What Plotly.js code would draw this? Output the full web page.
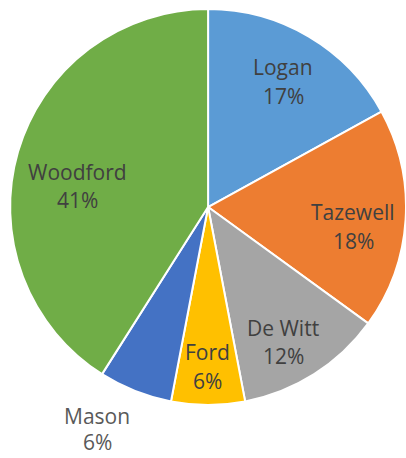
<!DOCTYPE html>
<html>
<head>
<meta charset="utf-8">
<script src="https://cdn.plot.ly/plotly-3.0.1.min.js"></script>
<style>html,body{margin:0;padding:0;background:#fff;}#chart{width:406px;height:458px;}</style>
</head>
<body>
<div id="chart"></div>
<script>
const counties = ["Logan", "Tazewell", "De Witt", "Ford", "Mason", "Woodford"];
const shares = [17, 18, 12, 6, 6, 41];
const sliceColors = ["#5B9BD5", "#ED7D31", "#A5A5A5", "#FFC000", "#4472C4", "#70AD47"];

// label placement (layout, pixels): centre x, y of name line, y of percent line
const labelX = [283, 353, 283, 207, 97, 77];
const labelY1 = [67, 212, 328, 352, 416, 172];
const labelY2 = [97, 242, 357, 382, 443, 202];
const labelColors = ["#404040", "#404040", "#404040", "#404040", "#595959", "#404040"];

const W = 406, H = 458;
const font = {family: "Open Sans, Liberation Sans, sans-serif", size: 21};

const trace = {
  type: "pie",
  labels: counties,
  values: shares,
  sort: false,
  direction: "clockwise",
  rotation: 0,
  marker: {colors: sliceColors, line: {color: "#ffffff", width: 2}},
  textinfo: "none",
  showlegend: false,
  hoverinfo: "label+percent",
  domain: {x: [0.025, 1], y: [0.1135, 0.9825]}
};

const annotations = [];
counties.forEach((name, i) => {
  annotations.push({
    xref: "paper", yref: "paper",
    x: labelX[i] / W, y: 1 - labelY1[i] / H,
    xanchor: "center", yanchor: "middle",
    text: name, showarrow: false,
    font: Object.assign({}, font, {color: labelColors[i]})
  });
  const bottomY = labelY2[i] + 14.5;
  annotations.push({
    xref: "paper", yref: "paper",
    x: labelX[i] / W, y: Math.max(0, 1 - bottomY / H),
    xanchor: "center", yanchor: "bottom",
    text: shares[i] + "%", showarrow: false,
    font: Object.assign({}, font, {color: labelColors[i]})
  });
});

Plotly.newPlot("chart", [trace], {
  width: W, height: H,
  margin: {l: 0, r: 0, t: 0, b: 0},
  paper_bgcolor: "#ffffff",
  showlegend: false,
  annotations: annotations
}, {displayModeBar: false, staticPlot: true});
</script>
</body>
</html>
